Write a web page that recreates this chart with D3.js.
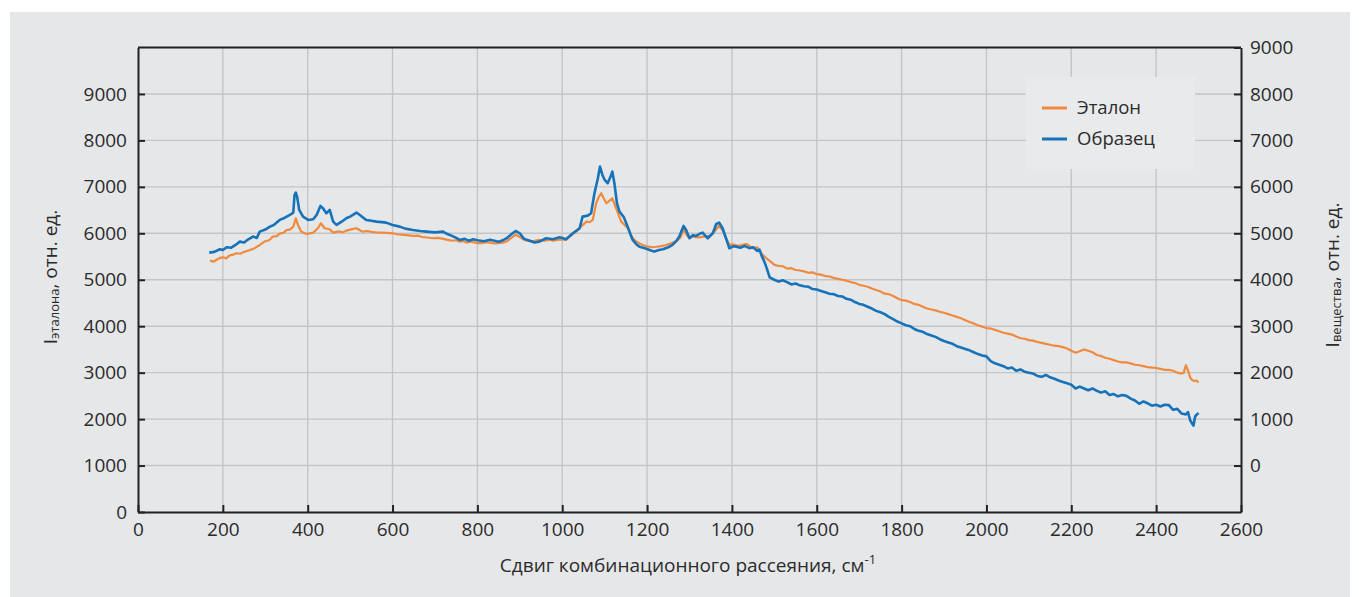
<!DOCTYPE html>
<html><head><meta charset="utf-8">
<script src="https://cdn.jsdelivr.net/npm/d3@7"></script>
<style>body{margin:0;background:#fff}svg{display:block}text{font-family:"Open Sans",sans-serif;fill:#2b2b2b}</style>
</head><body><svg id="c" width="1359" height="597"></svg>
<script>
// Эталон (left axis)
const etalonShift = [170,178,185,193,201,208,215,224,232,241,250,257,264,275,287,300,309,318,327,335,343,350,358,366,372,377,385,397,405,413,424,431,440,452,460,468,475,483,491,505,515,522,530,540,550,560,570,585,601,610,620,634,648,660,670,682,695,707,720,730,740,750,758,767,775,783,790,800,810,820,830,840,850,860,870,880,890,900,912,925,935,946,960,970,978,986,994,1009,1020,1033,1045,1057,1065,1072,1080,1086,1092,1098,1104,1111,1118,1127,1139,1147,1155,1162,1170,1180,1190,1200,1213,1222,1230,1245,1255,1268,1278,1286,1296,1310,1323,1335,1347,1360,1369,1378,1386,1394,1405,1412,1420,1428,1435,1442,1450,1460,1470,1480,1490,1500,1510,1520,1530,1540,1550,1560,1570,1580,1590,1600,1610,1620,1630,1640,1650,1660,1670,1680,1690,1700,1710,1720,1730,1740,1750,1760,1770,1780,1790,1800,1810,1820,1830,1840,1850,1860,1870,1880,1890,1900,1910,1920,1930,1940,1950,1960,1970,1980,1990,2000,2010,2020,2030,2040,2050,2060,2070,2080,2090,2100,2110,2120,2130,2140,2150,2160,2170,2180,2190,2200,2210,2220,2230,2240,2250,2260,2270,2280,2290,2300,2310,2320,2330,2340,2350,2360,2370,2380,2390,2400,2410,2420,2430,2440,2450,2460,2465,2470,2475,2480,2485,2490,2495,2500];
const etalonValues = [5411,5390,5430,5470,5483,5460,5520,5540,5570,5560,5600,5620,5642,5680,5749,5830,5850,5929,5940,6000,6010,6072,6080,6144,6323,6180,6036,5986,6000,6015,6108,6216,6108,6087,6015,6030,6040,6020,6058,6090,6108,6070,6036,6050,6030,6020,6015,6010,6000,5980,5970,5960,5943,5950,5920,5910,5893,5900,5880,5860,5840,5850,5821,5830,5800,5820,5810,5790,5790,5810,5800,5780,5790,5800,5830,5900,5970,5920,5850,5830,5840,5857,5840,5860,5843,5850,5870,5857,5950,6036,6150,6252,6240,6288,6647,6780,6862,6750,6647,6700,6754,6539,6252,6180,6108,5950,5857,5790,5749,5720,5700,5710,5720,5749,5780,5821,5900,6072,5929,5920,5914,5930,5943,6050,6158,6072,5900,5749,5760,5730,5740,5760,5770,5720,5680,5700,5560,5470,5400,5320,5300,5290,5240,5250,5210,5200,5180,5150,5160,5120,5110,5080,5070,5040,5020,5000,4980,4950,4930,4890,4870,4850,4810,4780,4750,4700,4690,4650,4600,4560,4550,4520,4480,4460,4420,4380,4360,4340,4310,4290,4260,4230,4200,4170,4130,4090,4060,4020,3990,3960,3950,3920,3890,3860,3840,3820,3780,3740,3730,3700,3690,3660,3640,3620,3600,3580,3570,3550,3520,3470,3430,3460,3500,3470,3440,3380,3360,3320,3300,3270,3240,3220,3220,3200,3170,3160,3140,3120,3110,3100,3080,3060,3060,3040,3000,2980,3000,3160,3050,2900,2840,2820,2830,2790];
// Образец (right axis)
const sampleShift = [168,180,193,200,209,220,230,240,250,260,271,280,287,300,311,320,334,345,358,366,369,372,375,380,389,401,413,421,430,436,444,452,460,468,480,491,500,515,523,538,550,562,575,585,600,617,630,648,665,680,700,719,728,735,750,758,770,780,790,800,815,830,850,860,870,880,890,900,910,920,935,946,962,978,994,1009,1025,1041,1048,1060,1068,1076,1084,1089,1095,1100,1107,1113,1118,1123,1129,1135,1145,1151,1160,1166,1175,1182,1195,1206,1217,1228,1237,1250,1260,1270,1276,1286,1292,1300,1308,1316,1324,1331,1337,1343,1355,1363,1370,1378,1386,1394,1402,1410,1420,1430,1441,1450,1460,1465,1470,1476,1482,1489,1500,1510,1520,1530,1540,1550,1560,1570,1580,1590,1600,1610,1620,1630,1640,1650,1660,1670,1680,1690,1700,1710,1720,1730,1740,1750,1760,1770,1780,1790,1800,1810,1820,1830,1840,1850,1860,1870,1880,1890,1900,1910,1920,1930,1940,1950,1960,1970,1980,1990,2000,2010,2020,2030,2040,2050,2060,2070,2080,2090,2100,2110,2120,2130,2140,2150,2160,2170,2180,2190,2200,2210,2220,2230,2240,2250,2260,2270,2280,2290,2300,2310,2320,2330,2340,2350,2360,2370,2380,2390,2400,2410,2420,2430,2440,2450,2460,2470,2475,2480,2485,2488,2492,2496,2500];
const sampleValues = [4584,4600,4657,4640,4700,4690,4750,4821,4800,4870,4929,4900,5036,5080,5144,5180,5288,5330,5395,5445,5826,5876,5790,5503,5359,5288,5302,5395,5589,5539,5431,5503,5252,5180,5250,5323,5360,5445,5395,5288,5270,5252,5240,5230,5180,5144,5100,5072,5050,5036,5020,5036,4990,4965,4900,4857,4880,4840,4870,4850,4830,4860,4820,4850,4900,4980,5050,5000,4880,4850,4800,4821,4893,4872,4914,4872,5000,5108,5359,5380,5431,5862,6186,6436,6250,6149,6078,6200,6329,6078,5647,5467,5350,5216,5000,4857,4760,4713,4680,4642,4606,4640,4657,4700,4749,4850,4929,5158,5072,4893,4960,4943,4990,5015,4950,4893,5000,5201,5230,5108,4893,4678,4720,4713,4690,4730,4680,4700,4620,4650,4520,4400,4250,4050,4000,3960,3990,3950,3900,3920,3880,3860,3850,3800,3790,3760,3730,3700,3690,3650,3640,3590,3570,3520,3480,3460,3420,3380,3330,3300,3260,3200,3150,3100,3060,3020,3000,2940,2900,2880,2830,2800,2770,2720,2680,2650,2620,2570,2540,2510,2480,2440,2400,2370,2350,2250,2200,2170,2140,2090,2110,2040,2070,2020,2000,1980,1930,1910,1950,1900,1870,1830,1800,1770,1740,1660,1700,1660,1620,1660,1610,1570,1600,1520,1540,1490,1520,1500,1440,1400,1330,1380,1340,1290,1310,1270,1310,1300,1200,1220,1120,1100,1150,980,900,860,1060,1100,1130];

const xTicks = d3.range(0, 2601, 200);
const leftTicks = d3.range(0, 9001, 1000);
const rightTicks = d3.range(0, 9001, 1000);
const seriesNames = ["Эталон", "Образец"];
const colors = ["#f08a3e", "#1673ba"];

const svg = d3.select("#c");
svg.append("rect").attr("x",10).attr("y",12).attr("width",1340).attr("height",585).attr("fill","#e6e7e9");

const L=138, R=1241, T=47.5, B=512;
const x = d3.scaleLinear().domain([0,2600]).range([L,R]);
const yL = d3.scaleLinear().domain([0,10000]).range([B,T]);
const yR = d3.scaleLinear().domain([-1000,9000]).range([B,T]);

const g = svg.append("g");
g.selectAll(".hg").data(leftTicks.filter(d=>d>0)).join("line")
  .attr("x1",L).attr("x2",R).attr("y1",d=>yL(d)).attr("y2",d=>yL(d))
  .attr("stroke","#c4c5c7").attr("stroke-width",1.4);
g.selectAll(".vg").data(xTicks.filter(d=>d>0&&d<2600)).join("line")
  .attr("y1",T).attr("y2",B).attr("x1",d=>x(d)).attr("x2",d=>x(d))
  .attr("stroke","#c4c5c7").attr("stroke-width",1.4);

svg.append("rect").attr("x",1026).attr("y",77).attr("width",169).attr("height",92).attr("fill","#e9eaeb");

const mk = (sx, sv, ys) => sx.map((d,i)=>[x(d), ys(sv[i])]);
const line = d3.line();
svg.append("path").attr("d", line(mk(etalonShift, etalonValues, yL)))
  .attr("fill","none").attr("stroke",colors[0]).attr("stroke-width",2.2).attr("stroke-linejoin","round");
svg.append("path").attr("d", line(mk(sampleShift, sampleValues, yR)))
  .attr("fill","none").attr("stroke",colors[1]).attr("stroke-width",2.6).attr("stroke-linejoin","round");

const fs = "19px";
const fmt = d3.format("d");
const ax = svg.append("g").attr("transform",`translate(0,${B})`)
  .call(d3.axisBottom(x).tickValues(xTicks).tickFormat(fmt).tickSizeInner(-7).tickSizeOuter(0).tickPadding(11));
const al = svg.append("g").attr("transform",`translate(${L},0)`)
  .call(d3.axisLeft(yL).tickValues(leftTicks).tickFormat(fmt).tickSizeInner(-7).tickSizeOuter(0).tickPadding(11));
const ar = svg.append("g").attr("transform",`translate(${R},0)`)
  .call(d3.axisRight(yR).tickValues(rightTicks).tickFormat(fmt).tickSizeInner(-7).tickSizeOuter(0).tickPadding(9));
[ax,al,ar].forEach(a=>{
  a.selectAll("text").attr("font-size",fs).attr("font-family","Open Sans").style("fill","#2b2b2b");
  a.selectAll("line").attr("stroke","#222").attr("stroke-width",2);
  a.select(".domain").attr("stroke","#222").attr("stroke-width",2);
});
svg.append("line").attr("x1",L).attr("x2",R).attr("y1",T).attr("y2",T).attr("stroke","#222").attr("stroke-width",2);

const tx = svg.append("text").attr("x",688).attr("y",572).attr("text-anchor","middle").attr("font-size","19px");
tx.append("tspan").text("Сдвиг комбинационного рассеяния, см");
tx.append("tspan").attr("dy",-8).attr("font-size","13px").text("-1");

const tl = svg.append("text").attr("transform","translate(57,277) rotate(-90)").attr("text-anchor","middle").attr("font-size","19px");
tl.append("tspan").text("I");
tl.append("tspan").attr("font-size","13px").attr("dy",2).text("эталона");
tl.append("tspan").attr("dy",-2).text(", отн. ед.");

const tr = svg.append("text").attr("transform","translate(1339,275) rotate(-90)").attr("text-anchor","middle").attr("font-size","19px");
tr.append("tspan").text("I");
tr.append("tspan").attr("font-size","13px").attr("dy",2).text("вещества");
tr.append("tspan").attr("dy",-2).text(", отн. ед.");

seriesNames.forEach((n,i)=>{
  const yy = 108 + i*31;
  svg.append("line").attr("x1",1042).attr("x2",1067).attr("y1",yy).attr("y2",yy).attr("stroke",colors[i]).attr("stroke-width",3);
  svg.append("text").attr("x",1077).attr("y",yy+6).attr("font-size","18.5px").text(n);
});
</script></body></html>
